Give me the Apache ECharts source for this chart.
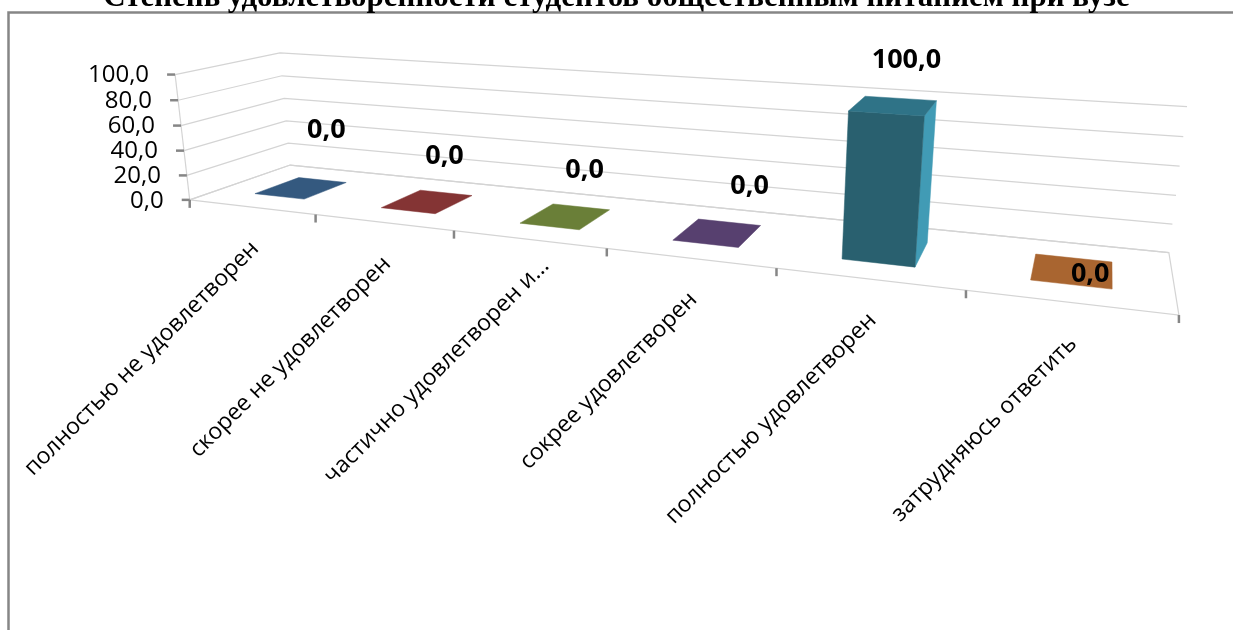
<!DOCTYPE html>
<html><head><meta charset="utf-8">
<style>html,body{margin:0;padding:0;background:#fff}#c{width:1233px;height:630px}</style>
<script src="https://cdn.jsdelivr.net/npm/echarts@6/dist/echarts.min.js"></script>
</head><body><div id="c"></div>
<script>
// ---- data ----
const chartTitle = 'Степень удовлетворенности студентов общественным питанием при вузе';
const categories = ['полностью не удовлетворен','скорее не удовлетворен','частично удовлетворен и...','сокрее удовлетворен','полностью удовлетворен','затрудняюсь ответить'];
const values = [0,0,0,0,100,0];
const valueTicks = [0,20,40,60,80,100];
const tickLabels = ['0,0','20,0','40,0','60,0','80,0','100,0'];
const valueLabels = ['0,0','0,0','0,0','0,0','100,0','0,0'];
// ---- style ----
const topColors = ['#34597F','#843434','#6A7F38','#57406F','#2F7387','#A96530'];
const frontColors = ['#2E4F72','#762E2E','#5E7132','#4D3963','#29606F','#965A2B'];
const sideColors = ['#4A7FB5','#BA4A4A','#96B450','#7B5B9D','#419BB5','#EF8F44'];
const dataLabelShift = [[25,-58],[17,-45],[19,-46],[32,-46],[13,-45],[18,4]];
const catLabelShift = [[4,38],[4,38],[17,23],[4,38],[4,38],[4,38]];
const GRAY='#868686', GRID='#d4d4d4';
// ---- camera: where the chart box corners fall on screen [u(category),v(value),z(depth),sx,sy] ----
const calib = [
 [0,0,0,190,200],[1,0,0,1179,315],[0,1,0,175,74],[0,0,1,290,165],
 [0,1,1,280,53],[1,0,1,1169,252],[1,1,1,1187,107],
 [1/6,0,0,315.5,214.7],[2/6,0,0,454,230.8],[3/6,0,0,607,248.6],[4/6,0,0,776,268.2],[5/6,0,0,966,290.2]
];
function fitCamera(pts){
  const n=11, A=Array.from({length:n},()=>new Array(n+1).fill(0));
  const add=(r,b)=>{for(let i=0;i<n;i++){for(let j=0;j<n;j++)A[i][j]+=r[i]*r[j];A[i][n]+=r[i]*b;}};
  pts.forEach(([u,v,z,sx,sy])=>{
    add([u,v,z,1,0,0,0,0,-sx*u,-sx*v,-sx*z],sx);
    add([0,0,0,0,u,v,z,1,-sy*u,-sy*v,-sy*z],sy);
  });
  for(let c=0;c<n;c++){
    let p=c;for(let r=c+1;r<n;r++)if(Math.abs(A[r][c])>Math.abs(A[p][c]))p=r;
    [A[c],A[p]]=[A[p],A[c]];
    for(let r=0;r<n;r++){if(r===c)continue;const f=A[r][c]/A[c][c];for(let k=c;k<=n;k++)A[r][k]-=f*A[c][k];}
  }
  return A.map((row,i)=>row[n]/row[i]);
}
const M=fitCamera(calib);
function project(u,v,z){
  const w=M[8]*u+M[9]*v+M[10]*z+1;
  return [(M[0]*u+M[1]*v+M[2]*z+M[3])/w,(M[4]*u+M[5]*v+M[6]*z+M[7])/w];
}
const BAR_FILL=0.4, Z0=0.27, Z1=0.72;
const FONT_AXIS='23px "Open Sans", sans-serif';
const FONT_TICK='24px "Open Sans", sans-serif';
const FONT_VAL='bold 27px "Open Sans", sans-serif';
// unit position inside the (hidden) cartesian grid, through the library's scales
function unit(api,params,cat,val){
  const p=api.coord([cat,val]), r=params.coordSys;
  return [(p[0]-r.x)/r.width,(r.y+r.height-p[1])/r.height];
}
const line=(pts,color,w,z2)=>({type:'polyline',z2:z2||1,shape:{points:pts},style:{stroke:color,lineWidth:w,fill:null}});
const poly=(pts,color)=>({type:'polygon',shape:{points:pts},style:{fill:color,stroke:color,lineWidth:0.5}});

function renderGrid(params,api){
  const [,v]=unit(api,params,0,api.value(1));
  const a=project(0,v,0),b=project(0,v,1),c=project(1,v,1);
  const kids=[line([a,b,c],GRID,1.2)];
  kids.push(line([[a[0]-8,a[1]],a],GRAY,2.5,3));
  kids.push({type:'text',x:a[0]-26,y:a[1]+1,style:{text:tickLabels[params.dataIndex],font:FONT_TICK,fill:'#000',align:'right',verticalAlign:'middle'}});
  return {type:'group',children:kids};
}
function renderCat(params,api){
  const i=api.value(0), [cu]=unit(api,params,i,0), bw=api.size([1,0])[0]/params.coordSys.width;
  const kids=[];
  const tick=u=>{const p=project(u,0,0);kids.push(line([p,[p[0],p[1]+8]],GRAY,2.5,3));};
  tick(cu-bw/2); if(i===categories.length-1)tick(cu+bw/2);
  const m=project(cu,0,0), s=catLabelShift[i];
  kids.push({type:'text',x:m[0]+s[0],y:m[1]+s[1],rotation:Math.PI/4,style:{text:categories[i],font:FONT_AXIS,fill:'#000',align:'right',verticalAlign:'middle'}});
  return {type:'group',children:kids};
}
function renderBar(params,api){
  const i=params.dataIndex,[cu,v]=unit(api,params,api.value(0),api.value(1));
  const hw=api.size([1,0])[0]/params.coordSys.width*BAR_FILL/2;
  const L=cu-hw,R=cu+hw, kids=[];
  if(v>0){
    kids.push(poly([project(R,0,Z0),project(R,0,Z1),project(R,v,Z1),project(R,v,Z0)],sideColors[i]));
    kids.push(poly([project(L,0,Z0),project(R,0,Z0),project(R,v,Z0),project(L,v,Z0)],frontColors[i]));
  }
  kids.push(poly([project(L,v,Z0),project(R,v,Z0),project(R,v,Z1),project(L,v,Z1)],topColors[i]));
  return {type:'group',children:kids};
}
function renderLabel(params,api){
  const i=params.dataIndex,[cu,v]=unit(api,params,api.value(0),api.value(1));
  const c=project(cu,v,(Z0+Z1)/2), s=dataLabelShift[i];
  return {type:'text',x:c[0]+s[0],y:c[1]+s[1],style:{text:valueLabels[i],font:FONT_VAL,fill:'#000',align:'center',verticalAlign:'middle'}};
}
const chart=echarts.init(document.getElementById('c'));
chart.setOption({
  animation:false,
  backgroundColor:'#fff',
  grid:{left:0,right:0,top:0,bottom:0},
  xAxis:{type:'category',data:categories,show:false},
  yAxis:{type:'value',min:0,max:100,interval:20,show:false},
  title:{text:chartTitle,left:'center',top:-23,textStyle:{fontFamily:'"Liberation Serif",serif',fontWeight:'bold',fontSize:31,color:'#000'}},
  graphic:[{type:'polyline',z:0,shape:{points:[[8.5,630],[8.5,12.5],[1233,12.5]]},style:{stroke:GRAY,lineWidth:2.5,fill:null}}],
  series:[
    {type:'custom',z:2,silent:true,renderItem:(p,a)=>{
      const f=[project(0,0,0),project(0,0,1),project(1,0,1),project(1,0,0)];
      return {type:'group',children:[line([...f,f[0]],GRID,1.2),line([project(0,0,0),project(0,1,0)],GRID,1.2)]};
    },data:[[0,0]]},
    {type:'custom',z:3,silent:true,renderItem:renderGrid,data:valueTicks.map(v=>[0,v])},
    {type:'custom',z:3,silent:true,renderItem:renderCat,data:categories.map((c,i)=>[i,0])},
    {type:'custom',z:4,silent:true,renderItem:renderBar,data:values.map((v,i)=>[i,v])},
    {type:'custom',z:5,silent:true,renderItem:renderLabel,data:values.map((v,i)=>[i,v])}
  ]
});
</script></body></html>
